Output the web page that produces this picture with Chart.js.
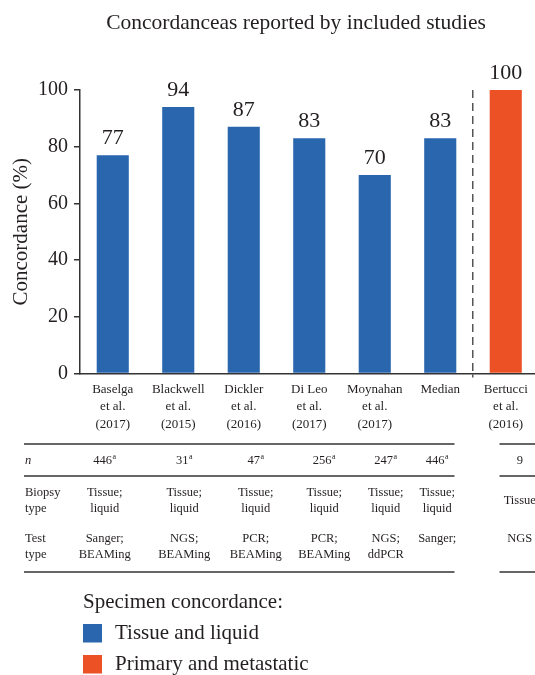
<!DOCTYPE html>
<html>
<head>
<meta charset="utf-8">
<script src="https://cdn.jsdelivr.net/npm/chart.js@4.4.1/dist/chart.umd.min.js"></script>
<style>
  html, body { margin: 0; padding: 0; background: #fff; overflow: hidden; width: 535px; height: 675px; }
  #wrap { position: relative; width: 545px; height: 675px; }
</style>
</head>
<body>
<div id="wrap"><canvas id="c" width="545" height="675"></canvas></div>
<script>
// ---------- data ----------
const categories = [
  ['Baselga', 'et al.', '(2017)'],
  ['Blackwell', 'et al.', '(2015)'],
  ['Dickler', 'et al.', '(2016)'],
  ['Di Leo', 'et al.', '(2017)'],
  ['Moynahan', 'et al.', '(2017)'],
  ['Median'],
  ['Bertucci', 'et al.', '(2016)']
];
const concordance = [77, 94, 87, 83, 70, 83, 100];
const specimenGroup = [0, 0, 0, 0, 0, 0, 1];   // 0 = tissue and liquid, 1 = primary and metastatic
const groupNames = ['Tissue and liquid', 'Primary and metastatic'];
const nValues = ['446', '31', '47', '256', '247', '446', '9'];
const nFootnote = ['a', 'a', 'a', 'a', 'a', 'a', ''];
const biopsyType = [
  ['Tissue;', 'liquid'], ['Tissue;', 'liquid'], ['Tissue;', 'liquid'],
  ['Tissue;', 'liquid'], ['Tissue;', 'liquid'], ['Tissue;', 'liquid'], ['Tissue']
];
const testType = [
  ['Sanger;', 'BEAMing'], ['NGS;', 'BEAMing'], ['PCR;', 'BEAMing'],
  ['PCR;', 'BEAMing'], ['NGS;', 'ddPCR'], ['Sanger;'], ['NGS']
];
const yTicks = [0, 20, 40, 60, 80, 100];
const titleText = 'Concordanceas reported by included studies';
const yTitle = 'Concordance (%)';
const legendTitle = 'Specimen concordance:';

// ---------- style ----------
const SERIF = '"Liberation Serif", "Times New Roman", serif';
const groupColors = ['#2966ae', '#ec5125'];
const INK = '#231f20';
const tableColShift = [-8, 6, 12, 15, 11, -3, 14];

const extras = {
  id: 'extras',
  afterDatasetsDraw(chart) {
    const ctx = chart.ctx;
    const meta = chart.getDatasetMeta(0);
    ctx.save();
    ctx.fillStyle = INK;
    ctx.font = '22px ' + SERIF;
    ctx.textAlign = 'center';
    ctx.textBaseline = 'alphabetic';
    meta.data.forEach((bar, i) => {
      ctx.fillText(String(concordance[i]), bar.x, bar.y - 11);
    });
    ctx.restore();
  },
  afterDraw(chart) {
    const ctx = chart.ctx;
    const xs = chart.scales.x;
    ctx.save();
    ctx.fillStyle = INK;
    ctx.strokeStyle = '#333';

    // title
    ctx.font = '21.5px ' + SERIF;
    ctx.textAlign = 'center';
    ctx.textBaseline = 'alphabetic';
    ctx.fillText(titleText, 296, 29);

    // table rules
    ctx.lineWidth = 1.5;
    const boundary = (xs.getPixelForValue(5) + xs.getPixelForValue(6)) / 2;
    [444, 476, 572].forEach(y => {
      ctx.beginPath();
      ctx.moveTo(24, y); ctx.lineTo(boundary - 18.5, y);
      ctx.moveTo(boundary + 26.5, y); ctx.lineTo(545, y);
      ctx.stroke();
    });

    // row headers
    ctx.textAlign = 'left';
    ctx.textBaseline = 'middle';
    ctx.font = 'italic 12.5px ' + SERIF;
    ctx.fillText('n', 25, 461);
    ctx.font = '12.5px ' + SERIF;
    ctx.fillText('Biopsy', 25, 493);
    ctx.fillText('type', 25, 508.5);
    ctx.fillText('Test', 25, 539);
    ctx.fillText('type', 25, 554.5);

    // columns
    categories.forEach((c, i) => {
      const cx = xs.getPixelForValue(i) + tableColShift[i];
      // n with footnote
      ctx.font = '12.5px ' + SERIF;
      const w1 = ctx.measureText(nValues[i]).width;
      ctx.font = '8px ' + SERIF;
      const w2 = nFootnote[i] ? ctx.measureText(nFootnote[i]).width + 0.5 : 0;
      const start = cx - (w1 + w2) / 2;
      ctx.textAlign = 'left';
      ctx.font = '12.5px ' + SERIF;
      ctx.fillText(nValues[i], start, 461);
      if (nFootnote[i]) {
        ctx.font = '8px ' + SERIF;
        ctx.fillText(nFootnote[i], start + w1 + 0.5, 457);
      }
      ctx.textAlign = 'center';
      ctx.font = '12.5px ' + SERIF;
      const b = biopsyType[i];
      if (b.length === 2) {
        ctx.fillText(b[0], cx, 493);
        ctx.fillText(b[1], cx, 508.5);
      } else {
        ctx.fillText(b[0], cx, 500.5);
      }
      testType[i].forEach((t, k) => ctx.fillText(t, cx, 539 + k * 15.5));
    });

    // legend
    ctx.textAlign = 'left';
    ctx.textBaseline = 'alphabetic';
    ctx.font = '21px ' + SERIF;
    ctx.fillText(legendTitle, 83, 608);
    groupNames.forEach((g, k) => {
      const y = 624 + k * 31;
      ctx.fillStyle = groupColors[k];
      ctx.fillRect(83, y, 19, 18.5);
      ctx.fillStyle = INK;
      ctx.textBaseline = 'middle';
      ctx.fillText(g, 115, y + 9.5);
      ctx.textBaseline = 'alphabetic';
    });
    ctx.restore();
  }
};

new Chart(document.getElementById('c'), {
  type: 'bar',
  data: {
    labels: categories,
    datasets: [{
      data: concordance,
      backgroundColor: specimenGroup.map(g => groupColors[g]),
      borderWidth: 0,
      barPercentage: 0.49,
      categoryPercentage: 1.0
    }]
  },
  options: {
    responsive: false,
    animation: false,
    devicePixelRatio: 1,
    layout: { padding: { left: 0, right: 6.5, top: 90, bottom: 241.5 } },
    plugins: { legend: { display: false }, tooltip: { enabled: false }, title: { display: false } },
    scales: {
      x: {
        afterFit(s) { s.height = 60; },
        grid: {
          offset: true,
          drawOnChartArea: true,
          drawTicks: true,
          tickLength: 4,
          lineWidth: 1.5,
          color: c => (c.index === 6 ? '#555' : 'rgba(0,0,0,0)'),
          tickColor: c => (c.index === 6 ? '#555' : 'rgba(0,0,0,0)')
        },
        border: { display: true, color: '#333', width: 1.5, dash: [8, 5] },
        ticks: {
          color: INK,
          padding: 3,
          maxRotation: 0,
          autoSkip: false,
          font: { family: SERIF, size: 13, lineHeight: 1.35 }
        }
      },
      y: {
        min: 0, max: 100,
        afterFit(s) { s.width = 80; },
        afterBuildTicks(s) { s.ticks = yTicks.map(v => ({ value: v })); },
        grid: { drawOnChartArea: false, drawTicks: true, tickLength: 6, tickColor: '#333', lineWidth: 1.5 },
        border: { display: true, color: '#333', width: 1.5 },
        ticks: { color: INK, padding: 6, font: { family: SERIF, size: 20 } },
        title: {
          display: true, text: yTitle, color: INK,
          font: { family: SERIF, size: 21 },
          padding: { top: 9, bottom: 0 }
        }
      }
    }
  },
  plugins: [extras]
});
</script>
</body>
</html>
